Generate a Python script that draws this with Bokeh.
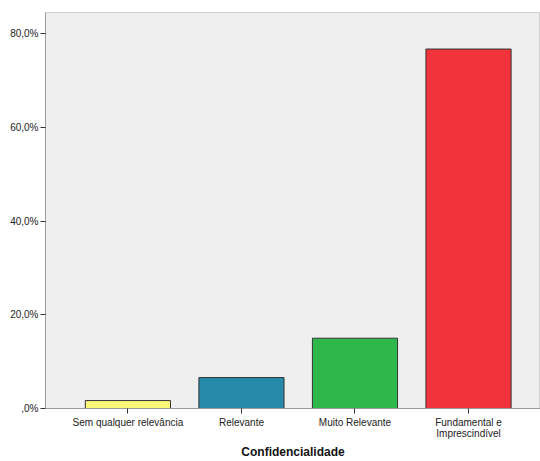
from bokeh.plotting import figure
from bokeh.models import FixedTicker, Range1d, ColumnDataSource
from bokeh.embed import file_html
from bokeh.resources import INLINE

categories = ["Sem qualquer relevância", "Relevante", "Muito Relevante", "Fundamental e\nImprescindível"]
percent = [1.7, 6.6, 15.0, 76.7]
colors = ["#FAF678", "#2589AA", "#2EB84B", "#F1333B"]
y_ticks = [0, 20, 40, 60, 80]
y_tick_labels = [",0%", "20,0%", "40,0%", "60,0%", "80,0%"]
x_title = "Confidencialidade"

xs = list(range(len(categories)))
src = ColumnDataSource(dict(x=xs, top=percent, color=colors))

p = figure(width=540, height=461, output_backend="svg", toolbar_location=None,
           x_range=Range1d(-0.726, 3.634), y_range=Range1d(0, 84.5),
           min_border_left=45, min_border_top=12, min_border_right=0, min_border_bottom=52)
p.background_fill_color = "#EFEFEF"
p.border_fill_color = "white"
p.outline_line_color = "#CFCFCF"
p.outline_line_width = 1
p.grid.visible = False

p.vbar(x="x", top="top", width=0.75, bottom=0, fill_color="color", line_color="#333333",
       line_width=1, source=src)

p.xaxis.ticker = FixedTicker(ticks=xs)
p.xaxis.major_label_overrides = {i: c for i, c in enumerate(categories)}
p.yaxis.ticker = FixedTicker(ticks=y_ticks)
p.yaxis.major_label_overrides = {t: l for t, l in zip(y_ticks, y_tick_labels)}

for ax in (p.xaxis[0], p.yaxis[0]):
    ax.axis_line_color = "#9A9A9A"
    ax.major_tick_line_color = "#333333"
    ax.major_tick_out = 5
    ax.major_tick_in = 0
    ax.minor_tick_line_color = None
    ax.major_label_text_font = "Liberation Sans"
    ax.major_label_text_font_size = "10px"
    ax.major_label_text_color = "#222222"
    ax.major_label_text_line_height = 1.0
p.yaxis.major_label_standoff = 2
p.xaxis.major_label_standoff = 3
p.xaxis.axis_label = x_title
p.xaxis.axis_label_text_font = "Liberation Sans"
p.xaxis.axis_label_text_font_style = "bold"
p.xaxis.axis_label_text_font_size = "12px"
p.xaxis.axis_label_text_color = "#111111"
p.xaxis.axis_label_text_line_height = 1.0
p.xaxis.axis_label_standoff = 3

open("out.html", "w").write(file_html(p, INLINE))
